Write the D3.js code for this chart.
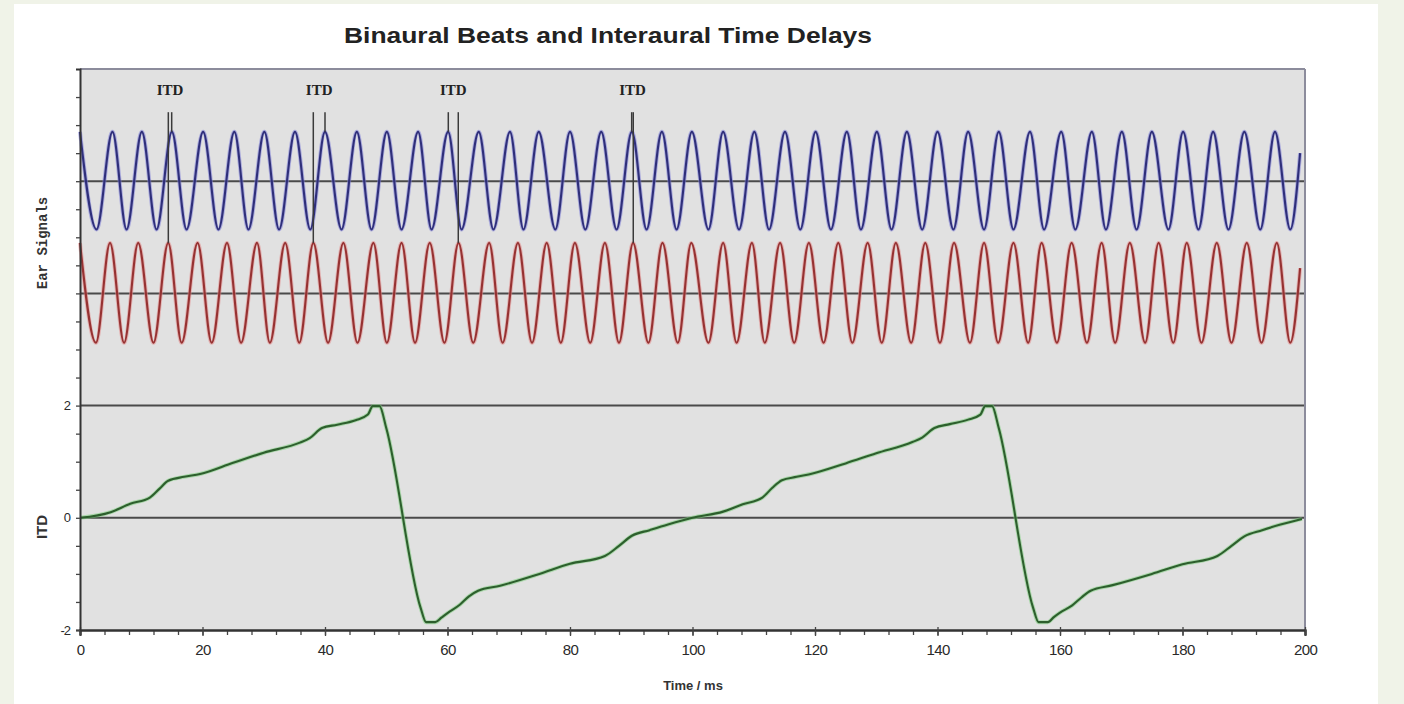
<!DOCTYPE html>
<html>
<head>
<meta charset="utf-8">
<script src="https://cdn.jsdelivr.net/npm/d3@7"></script>
<style>
	body { margin: 0; background: #f0f3e8; }
	svg { display: block; }
</style>
</head>
<body>
<svg id="viz"></svg>
<script>

// the data (times in ms)
var bluePeaks = [0.0, 5.3, 10.1, 15.0, 20.1, 25.2, 30.1, 35.1, 40.0, 45.2, 50.1, 55.2, 60.1, 65.1, 70.2, 74.9, 80.0, 85.1, 90.1, 95.0,
	99.9, 105.0, 110.1, 115.1, 120.1, 125.2, 130.1, 135.0, 140.0, 145.0, 150.0, 155.1, 160.2, 165.2, 170.1, 175.0, 180.1, 185.0, 190.1, 195.1];
var blueTroughs = [2.7, 7.6, 12.5, 17.4, 22.6, 27.5, 32.5, 37.6, 42.7, 47.6, 52.5, 57.4, 62.3, 67.5, 72.4, 77.6, 82.5, 87.6, 92.5, 97.4,
	102.6, 107.6, 112.5, 117.6, 122.6, 127.5, 132.5, 137.5, 142.6, 147.6, 152.4, 157.4, 162.5, 167.5, 172.5, 177.7, 182.6, 187.5, 192.7, 197.6];
var blueLevels = [6.88, 5.14];   // peak, trough
var blueEnd = [199.2, 6.5];

var redPeaks = [0.0, 4.9, 9.5, 14.4, 19.2, 24.0, 28.9, 33.5, 38.1, 43.0, 47.9, 52.5, 57.1, 61.8, 66.8, 71.5, 76.2, 80.8, 85.7, 90.3, 95.1,
	99.8, 105.0, 109.7, 114.3, 119.0, 123.8, 128.6, 133.2, 138.0, 142.7, 147.6, 152.4, 157.0, 161.9, 166.8, 171.4, 176.1, 180.7, 185.6, 190.5, 195.4];
var redTroughs = [2.6, 7.2, 12.0, 16.6, 21.5, 26.3, 31.0, 35.8, 40.5, 45.3, 50.1, 54.7, 59.5, 64.2, 69.0, 73.8, 78.5, 83.3, 88.0, 92.8, 97.6,
	102.6, 107.2, 111.8, 116.6, 121.4, 126.1, 130.9, 135.7, 140.4, 145.3, 149.9, 154.8, 159.5, 164.4, 169.0, 173.9, 178.5, 183.1, 188.0, 192.9, 197.6];
var redLevels = [4.9, 3.12];
var redEnd = [199.2, 4.45];

// interaural time delay curve
var itdTime = [0, 5, 8.2, 11.4, 13, 14.4, 17, 19.6, 25, 30, 35.9, 37.5, 39.5, 42, 45, 47, 47.8, 48.9, 50, 55.6, 56.5, 58, 59, 60, 62, 63.5, 65, 68.6, 75, 80, 85.7, 88, 90.1, 93, 96,
	100, 105, 108.2, 111.4, 113, 114.6, 117, 119.6, 125, 130, 135.9, 137.5, 139.5, 142, 145, 147, 147.8, 148.9, 150, 155.6, 156.5, 158, 159, 160, 162, 163.5, 165, 168.6, 175, 180, 185.7, 188, 190.1, 193, 196, 199.5];
var itdValue = [0, 0.1, 0.25, 0.36, 0.52, 0.66, 0.73, 0.78, 0.98, 1.16, 1.34, 1.42, 1.6, 1.66, 1.74, 1.84, 1.99, 1.99, 1.6, -1.6, -1.86, -1.86, -1.78, -1.7, -1.55, -1.4, -1.3, -1.21, -1.0, -0.82, -0.68, -0.5, -0.32, -0.22, -0.12,
	0, 0.11, 0.24, 0.36, 0.53, 0.67, 0.73, 0.79, 0.97, 1.15, 1.35, 1.43, 1.6, 1.67, 1.75, 1.84, 1.99, 1.99, 1.6, -1.6, -1.86, -1.86, -1.77, -1.69, -1.56, -1.42, -1.3, -1.2, -1.0, -0.83, -0.68, -0.5, -0.33, -0.22, -0.12, -0.02];

// ITD markers: the blue peak and the red peak they point at
var markBlue = [14.97, 40.0, 60.13, 90.07];
var markRed = [14.42, 38.09, 61.76, 90.33];

var xTicks = [0, 20, 40, 60, 80, 100, 120, 140, 160, 180, 200];
var yLabels = [-2, 0, 2];
var baseLines = [6, 4, 2, 0];



// set up the svg
var w = 1404;
var h = 704;
var svg = d3.select("#viz");
svg.attr("width", w).attr("height", h);

// white sheet on the pale slide
svg.append("rect").attr("x", 14).attr("y", 4).attr("width", 1364).attr("height", h).attr("fill", "#ffffff");

var pLeft = 80, pRight = 1305, pTop = 69, pBottom = 630;
var x = d3.scaleLinear().domain([0, 200]).range([pLeft, pRight]);
var y = d3.scaleLinear().domain([-2, 8]).range([pBottom, pTop]);

// plot area
svg.append("rect")
	.attr("x", pLeft).attr("y", pTop)
	.attr("width", pRight - pLeft).attr("height", pBottom - pTop)
	.attr("fill", "#e1e1e1");

// title
svg.append("text")
	.attr("x", 608).attr("y", 43)
	.attr("text-anchor", "middle")
	.attr("textLength", 528)
	.attr("lengthAdjust", "spacingAndGlyphs")
	.style("font-family", "Liberation Sans, Arial, sans-serif")
	.style("font-weight", "bold")
	.style("font-size", "22px")
	.attr("fill", "#222")
	.text("Binaural Beats and Interaural Time Delays");

// zero lines of each trace
svg.selectAll("line.base")
	.data(baseLines)
	.enter().append("line")
	.attr("class", "base")
	.attr("x1", pLeft).attr("x2", pRight)
	.attr("y1", function(d) { return y(d); })
	.attr("y2", function(d) { return y(d); })
	.attr("stroke", "#4a4a4a")
	.attr("stroke-width", 2);

// build the traces from the peaks and troughs
function extrema(peaks, troughs, levels, end) {
	var pts = peaks.map(function(t) { return [t, levels[0]]; })
		.concat(troughs.map(function(t) { return [t, levels[1]]; }));
	pts.push(end);
	return pts.sort(function(a, b) { return a[0] - b[0]; });
}

var wave = d3.line()
	.x(function(d) { return x(d[0]); })
	.y(function(d) { return y(d[1]); })
	.curve(d3.curveMonotoneX);

function trace(pts, halo, core) {
	svg.append("path").attr("d", wave(pts))
		.attr("fill", "none").attr("stroke", halo).attr("stroke-width", 4).attr("stroke-opacity", 0.55);
	svg.append("path").attr("d", wave(pts))
		.attr("fill", "none").attr("stroke", core).attr("stroke-width", 2.1);
}

trace(extrema(bluePeaks, blueTroughs, blueLevels, blueEnd), "#7f7fd8", "#2f2f7a");
trace(extrema(redPeaks, redTroughs, redLevels, redEnd), "#e48c8c", "#963232");
trace(itdTime.map(function(t, i) { return [t, itdValue[i]]; }), "#7ed07e", "#2d5f2d");

// ITD markers
var markTop = 7.23;
markBlue.forEach(function(t, i) {
	var tr = markRed[i];
	svg.append("line")
		.attr("x1", x(t)).attr("x2", x(t))
		.attr("y1", y(markTop)).attr("y2", y(blueLevels[0]))
		.attr("stroke", "#3a3a3a").attr("stroke-width", 1.5);
	svg.append("line")
		.attr("x1", x(tr)).attr("x2", x(tr))
		.attr("y1", y(markTop)).attr("y2", y(redLevels[0]))
		.attr("stroke", "#3a3a3a").attr("stroke-width", 1.5);
	svg.append("text")
		.attr("x", x((t + tr) / 2)).attr("y", 95)
		.attr("text-anchor", "middle")
		.style("font-family", "Liberation Serif, serif")
		.style("font-weight", "bold")
		.style("font-size", "15px")
		.attr("fill", "#222")
		.text("ITD");
});

// frame
svg.append("line").attr("x1", pLeft).attr("x2", pRight).attr("y1", pTop).attr("y2", pTop)
	.attr("stroke", "#8c8c9c").attr("stroke-width", 2);
svg.append("line").attr("x1", pRight).attr("x2", pRight).attr("y1", pTop).attr("y2", pBottom)
	.attr("stroke", "#8c8c9c").attr("stroke-width", 2);

// axes
var xMinor = svg.append("g").attr("transform", "translate(0," + pBottom + ")")
	.call(d3.axisBottom(x).tickValues(d3.range(0, 201, 4)).tickSize(5).tickFormat(""));
var xMajor = svg.append("g").attr("transform", "translate(0," + pBottom + ")")
	.call(d3.axisBottom(x).tickValues(xTicks).tickSize(6).tickPadding(8));
var yAxis = svg.append("g").attr("transform", "translate(" + pLeft + ",0)")
	.call(d3.axisLeft(y).tickValues(d3.range(-2, 8, 0.5)).tickSize(4).tickPadding(6)
		.tickFormat(function(d) { return yLabels.indexOf(d) >= 0 ? d : ""; }));

svg.selectAll(".domain").attr("stroke", "#333").attr("stroke-width", 2);
svg.selectAll(".tick line").attr("stroke", "#444").attr("stroke-width", 1.3);
xMajor.selectAll(".tick line").attr("y1", -3);
xMajor.selectAll("text")
	.style("font-family", "Liberation Sans, Arial, sans-serif")
	.style("font-size", "15px")
	.style("letter-spacing", "-0.6px")
	.attr("fill", "#2a2a2a");
yAxis.selectAll("text")
	.style("font-family", "Liberation Sans, Arial, sans-serif")
	.style("font-size", "13px")
	.style("letter-spacing", "-1px")
	.attr("fill", "#2a2a2a");

// axis titles
svg.append("text")
	.attr("x", 693).attr("y", 690)
	.attr("text-anchor", "middle")
	.style("font-family", "Liberation Sans, Arial, sans-serif")
	.style("font-weight", "bold")
	.style("font-size", "13px")
	.attr("fill", "#333")
	.text("Time / ms");

svg.append("text")
	.attr("transform", "translate(47,527) rotate(-90)")
	.attr("text-anchor", "middle")
	.style("font-family", "Liberation Sans, Arial, sans-serif")
	.style("font-weight", "bold")
	.style("font-size", "15px")
	.attr("fill", "#333")
	.text("ITD");

svg.append("text")
	.attr("transform", "translate(47,243) rotate(-90)")
	.attr("text-anchor", "middle")
	.style("font-family", "Liberation Mono, monospace")
	.style("font-weight", "bold")
	.style("font-size", "14px")
	.attr("fill", "#333")
	.text("Ear Signals");

</script>
</body>
</html>
